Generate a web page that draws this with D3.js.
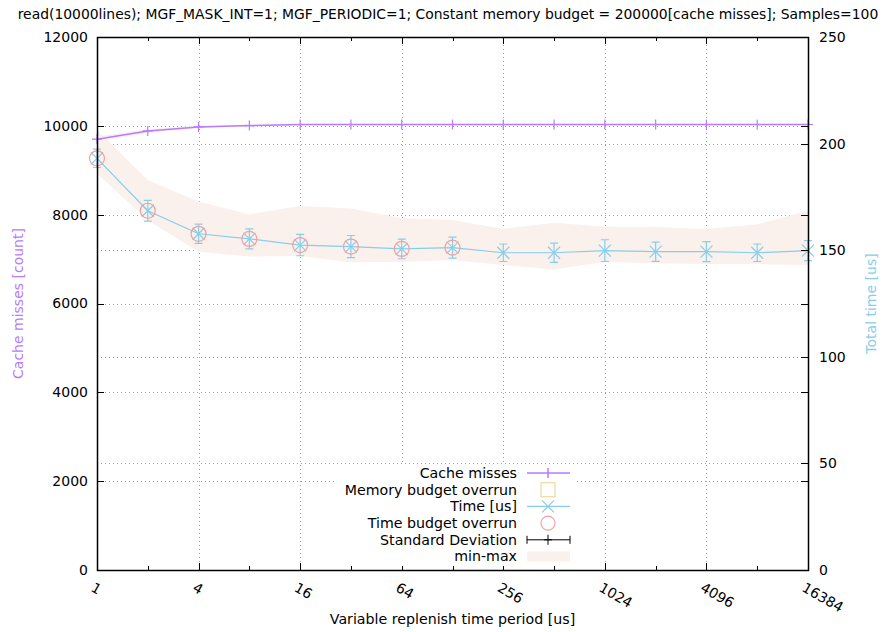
<!DOCTYPE html>
<html>
<head>
<meta charset="utf-8">
<script src="https://cdn.jsdelivr.net/npm/d3@7"></script>
<style>
  body { margin: 0; background: #fff; }
  svg { font-family: "DejaVu Sans", sans-serif; }
</style>
</head>
<body>
<div id="chart"></div>
<script>
// replenish periods [us] (log2 axis)
const periods = [1, 2, 4, 8, 16, 32, 64, 128, 256, 512, 1024, 2048, 4096, 8192, 16384];
const periodTicks = [1, 4, 16, 64, 256, 1024, 4096, 16384];
const cacheTicks = [0, 2000, 4000, 6000, 8000, 10000, 12000];
const timeTicks = [0, 50, 100, 150, 200, 250];

// cache misses [count]
const cacheMisses = [9700, 9885, 9975, 10005, 10030, 10030, 10030, 10030, 10030, 10030, 10030, 10030, 10030, 10030, 10030];
const cacheMin = [9640, 9840, 9950, 9985, 10015, 10015, 10015, 10015, 10015, 10015, 10015, 10015, 10015, 10015, 10015];
const cacheMax = [9760, 9930, 10000, 10025, 10045, 10045, 10045, 10045, 10045, 10045, 10045, 10045, 10045, 10045, 10045];

// total time [us]
const timeUs = [193.1, 168.5, 157.7, 155.3, 152.4, 151.7, 150.6, 151.2, 148.8, 148.8, 149.8, 149.3, 149.3, 148.8, 149.8];
const timeStd = [4.3, 4.9, 4.5, 4.7, 5.0, 5.2, 4.6, 4.9, 4.1, 4.5, 5.1, 4.5, 4.7, 4.1, 4.7];
const timeMin = [186, 164, 149.3, 147, 147.3, 144.3, 144.6, 145.4, 143, 141, 144.6, 143.9, 143.5, 143.5, 143];
const timeMax = [206.4, 182.9, 172.8, 166.8, 170.7, 169.6, 165, 164.2, 160, 162.9, 161, 160.9, 160, 162.1, 168.5];
const timeOverrun = [1, 1, 1, 1, 1, 1, 1, 1, 0, 0, 0, 0, 0, 0, 0];
const memOverrun = [0, 0, 0, 0, 0, 0, 0, 0, 0, 0, 0, 0, 0, 0, 0];

const legendItems = ["Cache misses", "Memory budget overrun", "Time [us]", "Time budget overrun", "Standard Deviation", "min-max"];

const W = 896, H = 632;
const margin = {top: 37, right: 88, bottom: 62, left: 97};
const purple = "#b77cff", blue = "#87ceeb", red = "#f4a0a0", tan = "#f0d8a0", band = "#faf0ec";

const svg = d3.select("#chart").append("svg").attr("width", W).attr("height", H);

const x = d3.scaleLog().base(2).domain([1, 16384]).range([margin.left, W - margin.right]);
const y1 = d3.scaleLinear().domain([0, 12000]).range([H - margin.bottom, margin.top]);
const y2 = d3.scaleLinear().domain([0, 250]).range([H - margin.bottom, margin.top]);
const x0 = margin.left, x1 = W - margin.right, yb = H - margin.bottom, yt = margin.top;

// grid
const grid = svg.append("g").attr("stroke", "#a0a0a0").attr("stroke-width", 1).attr("stroke-dasharray", "1,3");
grid.selectAll(".gx").data(periodTicks.slice(1, -1)).join("line")
  .attr("x1", d => Math.round(x(d)) + 0.5).attr("x2", d => Math.round(x(d)) + 0.5)
  .attr("y1", yt).attr("y2", yb);
grid.selectAll(".gy1").data(cacheTicks.slice(1, -1)).join("line")
  .attr("x1", x0).attr("x2", x1)
  .attr("y1", d => Math.round(y1(d)) + 0.5).attr("y2", d => Math.round(y1(d)) + 0.5);
grid.selectAll(".gy2").data(timeTicks.slice(1, -1)).join("line")
  .attr("x1", x0).attr("x2", x1)
  .attr("y1", d => Math.round(y2(d)) + 0.5).attr("y2", d => Math.round(y2(d)) + 0.5);

// min-max bands
const idx = d3.range(periods.length);
svg.append("path").datum(idx)
  .attr("fill", band)
  .attr("d", d3.area().x(i => x(periods[i])).y0(i => y2(timeMin[i])).y1(i => y2(timeMax[i])));
svg.append("path").datum(idx)
  .attr("fill", band)
  .attr("d", d3.area().x(i => x(periods[i])).y0(i => y1(cacheMin[i])).y1(i => y1(cacheMax[i])));

// cache misses line + markers
svg.append("path").datum(idx)
  .attr("fill", "none").attr("stroke", purple).attr("stroke-width", 1.5)
  .attr("d", d3.line().x(i => x(periods[i])).y(i => y1(cacheMisses[i])));
svg.append("g").attr("stroke", purple).attr("stroke-width", 1.2)
  .selectAll("path").data(idx).join("path")
  .attr("d", i => {
    const cx = x(periods[i]), cy = y1(cacheMisses[i]);
    return `M${cx - 5},${cy}H${cx + 5}M${cx},${cy - 5}V${cy + 5}`;
  });

// time line
svg.append("path").datum(idx)
  .attr("fill", "none").attr("stroke", blue).attr("stroke-width", 1.2)
  .attr("d", d3.line().x(i => x(periods[i])).y(i => y2(timeUs[i])));

// standard deviation error bars
svg.append("g").attr("stroke", blue).attr("stroke-width", 1.2)
  .selectAll("path").data(idx).join("path")
  .attr("d", i => {
    const cx = x(periods[i]), ya = y2(timeUs[i] - timeStd[i]), yc = y2(timeUs[i] + timeStd[i]);
    return `M${cx},${ya}V${yc}M${cx - 4},${ya}H${cx + 4}M${cx - 4},${yc}H${cx + 4}`;
  });

// time markers (x)
svg.append("g").attr("stroke", blue).attr("stroke-width", 1.2)
  .selectAll("path").data(idx).join("path")
  .attr("d", i => {
    const cx = x(periods[i]), cy = y2(timeUs[i]), s = 6;
    return `M${cx - s},${cy - s}L${cx + s},${cy + s}M${cx - s},${cy + s}L${cx + s},${cy - s}`;
  });

// time budget overrun circles
svg.append("g").attr("fill", "none").attr("stroke", red).attr("stroke-width", 1.2)
  .selectAll("circle").data(idx.filter(i => timeOverrun[i])).join("circle")
  .attr("cx", i => x(periods[i])).attr("cy", i => y2(timeUs[i])).attr("r", 7.5);

// memory budget overrun squares (none in this run)
svg.append("g").attr("fill", "none").attr("stroke", tan).attr("stroke-width", 1.2)
  .selectAll("rect").data(idx.filter(i => memOverrun[i])).join("rect")
  .attr("x", i => x(periods[i]) - 7).attr("y", i => y1(cacheMisses[i]) - 7)
  .attr("width", 14).attr("height", 14);

// border + ticks
const ax = svg.append("g").attr("stroke", "#000").attr("stroke-width", 1);
ax.append("rect").attr("x", x0 + 0.5).attr("y", yt + 0.5).attr("width", x1 - x0).attr("height", yb - yt)
  .attr("fill", "none").attr("stroke-width", 1.5);
ax.selectAll(".tx").data(periods).join("path")
  .attr("d", (d, i) => {
    const px = Math.round(x(d)) + 0.5, len = i % 2 === 0 ? 7 : 4;
    return `M${px},${yb}v${-len}M${px},${yt}v${len}`;
  });
ax.selectAll(".ty1").data(cacheTicks).join("path")
  .attr("d", d => { const py = Math.round(y1(d)) + 0.5; return `M${x0},${py}h7M${x1},${py}h-7`; });
ax.selectAll(".ty2").data(timeTicks).join("path")
  .attr("d", d => { const py = Math.round(y2(d)) + 0.5; return `M${x1},${py}h-7`; });

// tick labels
const tl = svg.append("g").attr("font-size", 14).attr("fill", "#000");
tl.selectAll(".lx").data(periodTicks).join("text")
  .attr("transform", d => `translate(${x(d) - 2},${yb + 12}) rotate(30)`)
  .attr("dy", "0.7em")
  .text(d => d);
tl.selectAll(".ly1").data(cacheTicks).join("text")
  .attr("x", x0 - 9).attr("y", d => y1(d)).attr("dy", "0.35em").attr("text-anchor", "end")
  .text(d => d);
tl.selectAll(".ly2").data(timeTicks).join("text")
  .attr("x", x1 + 11).attr("y", d => y2(d)).attr("dy", "0.35em")
  .text(d => d);

// axis titles
svg.append("text").attr("x", W / 2).attr("y", 19).attr("text-anchor", "middle").attr("font-size", 13.9)
  .text("read(10000lines); MGF_MASK_INT=1; MGF_PERIODIC=1; Constant memory budget = 200000[cache misses]; Samples=100");
svg.append("text").attr("x", (x0 + x1) / 2).attr("y", 624).attr("text-anchor", "middle").attr("font-size", 14.2)
  .text("Variable replenish time period [us]");
svg.append("text").attr("transform", `translate(23,${(yt + yb) / 2}) rotate(-90)`)
  .attr("text-anchor", "middle").attr("font-size", 14).attr("fill", purple)
  .text("Cache misses [count]");
svg.append("text").attr("transform", `translate(876,${(yt + yb) / 2}) rotate(-90)`)
  .attr("text-anchor", "middle").attr("font-size", 14).attr("fill", blue)
  .text("Total time [us]");

// legend
const lg = svg.append("g");
lg.append("rect").attr("x", 335).attr("y", 465).attr("width", 240).attr("height", 101).attr("fill", "#fff");
const rowY = i => 473 + i * 16.7;
const sx0 = 527, sx1 = 570, sc = 548;
lg.selectAll("text").data(legendItems).join("text")
  .attr("x", 517).attr("y", (d, i) => rowY(i)).attr("dy", "0.35em").attr("text-anchor", "end")
  .attr("font-size", 14.2).text(d => d);
let r = rowY(0);
lg.append("path").attr("stroke", purple).attr("stroke-width", 1.5)
  .attr("d", `M${sx0},${r}H${sx1}M${sc},${r - 5}V${r + 5}`);
r = rowY(1);
lg.append("rect").attr("x", sc - 7).attr("y", r - 7).attr("width", 14).attr("height", 14)
  .attr("fill", "none").attr("stroke", tan).attr("stroke-width", 1.2);
r = rowY(2);
lg.append("path").attr("stroke", blue).attr("stroke-width", 1.2)
  .attr("d", `M${sx0},${r}H${sx1}M${sc - 6},${r - 6}L${sc + 6},${r + 6}M${sc - 6},${r + 6}L${sc + 6},${r - 6}`);
r = rowY(3);
lg.append("circle").attr("cx", sc).attr("cy", r).attr("r", 7)
  .attr("fill", "none").attr("stroke", red).attr("stroke-width", 1.2);
r = rowY(4);
lg.append("path").attr("stroke", "#000").attr("stroke-width", 1)
  .attr("d", `M${sx0},${r}H${sx1}M${sx0},${r - 4}V${r + 4}M${sx1},${r - 4}V${r + 4}M${sc - 4},${r}H${sc + 4}M${sc},${r - 5}V${r + 5}`);
r = rowY(5);
lg.append("rect").attr("x", sx0).attr("y", r - 5).attr("width", sx1 - sx0).attr("height", 10).attr("fill", band);
</script>
</body>
</html>
